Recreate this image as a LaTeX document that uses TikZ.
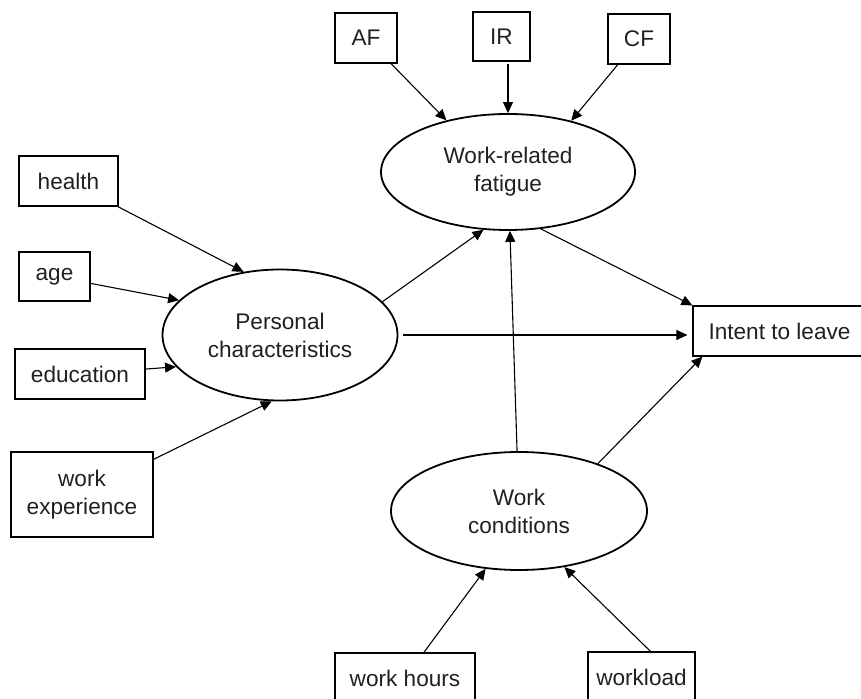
\documentclass[tikz,border=0pt]{standalone}
\usepackage{fontspec}
\setmainfont{Liberation Sans}
\usepackage{tikz}
\usetikzlibrary{positioning,arrows.meta,shapes.geometric,calc}
\definecolor{txtcolor}{RGB}{35,31,32}

\tikzset{
  obs/.style={draw, line width=0.6pt, inner sep=0pt, align=center, text=txtcolor},
  latent/.style={draw, ellipse, line width=0.9pt, inner sep=0pt, align=center, text=txtcolor},
  arr/.style={-{Triangle[length=5.5pt,width=5pt]}, line width=0.55pt}
}

\begin{document}
\begin{tikzpicture}[x=0.5pt,y=-0.5pt,font=\fontsize{11.3}{14}\selectfont]
  \useasboundingbox (0,0) rectangle (861,699);

  % Latent variables
  \node[latent, minimum width=127pt, minimum height=58pt] (fatigue) at (508,172) {Work-related\\fatigue};
  \node[latent, minimum width=117.5pt, minimum height=65.5pt] (personal) at (280,335) {Personal\\characteristics};
  \node[latent, minimum width=128pt, minimum height=59pt] (conditions) at (519,511) {Work\\conditions};

  % Observed variables
  \node[obs, minimum width=31pt, minimum height=25pt] (af) at (366,38) {AF};
  \node[obs, minimum width=28.5pt, minimum height=24.5pt] (ir) at (501.5,36.5) {IR};
  \node[obs, minimum width=31pt, minimum height=25pt] (cf) at (639,39) {CF};
  \node[obs, minimum width=49.5pt, minimum height=25pt] (health) at (68.5,181) {health};
  \node[obs, minimum width=35.5pt, minimum height=24.5pt] (age) at (54.5,276.5) {age};
  \node[obs, minimum width=65pt, minimum height=25pt] (education) at (80,374) {education};
  \node[obs, minimum width=71pt, minimum height=42.5pt] (workexp) at (82,494.5) {work\\experience};
  \node[obs, minimum width=86.5pt, minimum height=25pt] (intent) at (779.5,331) {Intent to leave};
  \node[obs, minimum width=70pt, minimum height=25pt] (workhours) at (405,678) {work hours};
  \node[obs, minimum width=53.5pt, minimum height=25pt] (workload) at (641.5,677) {workload};

  % Arrows into fatigue
  \draw[arr] (af) -- (fatigue.140);
  \draw[arr, shorten <=1pt] (ir.south -| fatigue.north) -- (fatigue.north);
  \draw[arr] (cf) -- (fatigue.39);

  % Arrows into personal characteristics
  \draw[arr] (health) -- (personal.120);
  \draw[arr] (age) -- (personal.161);
  \draw[arr] (education) -- (personal.197);
  \draw[arr] (workexp) -- (personal.263);

  % Arrows into work conditions
  \draw[arr] (workhours) -- (conditions.240);
  \draw[arr] ([xshift=4.5pt]workload.north) -- (conditions.309);

  % Structural paths
  \draw[arr] (personal.18) -- (fatigue.247);
  \draw[arr, shorten <=2.5pt, shorten >=2.5pt] (personal.east) -- (personal.east -| intent.west);
  \draw[arr] (fatigue.300) -- (intent.north west);
  \draw[arr] (conditions) -- (fatigue);
  \draw[arr] (conditions.31) -- ([xshift=5pt]intent.south west);

\end{tikzpicture}
\end{document}
